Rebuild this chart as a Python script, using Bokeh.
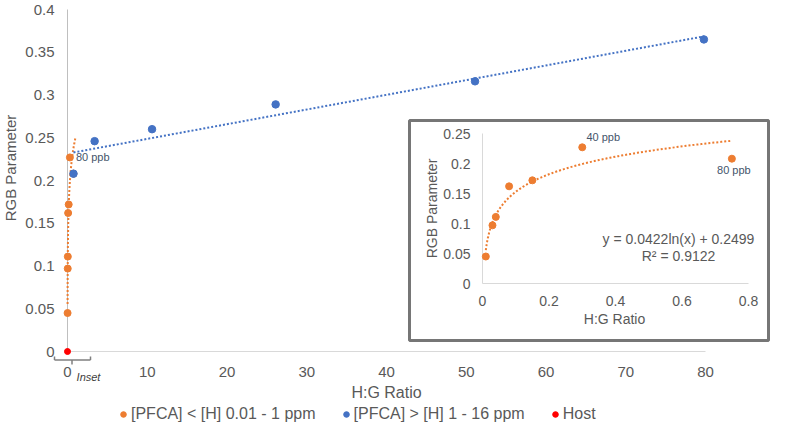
import numpy as np
from bokeh.plotting import figure
from bokeh.models import Range1d, Legend, LegendItem
from bokeh.core.properties import value
from bokeh.embed import file_html
from bokeh.resources import INLINE

# ---------------- data ----------------
low_x = [0.01, 0.03, 0.04, 0.08, 0.15, 0.30, 0.75]          # [PFCA] < [H]
low_y = [0.045, 0.097, 0.111, 0.162, 0.172, 0.227, 0.208]
high_x = [0.75, 3.4, 10.6, 26.1, 51.1, 79.8]                 # [PFCA] > [H]
high_y = [0.208, 0.246, 0.260, 0.289, 0.316, 0.365]
host_x = [0.0]
host_y = [0.0]

main_x_ticks = [0, 10, 20, 30, 40, 50, 60, 70, 80]
main_y_ticks = [0, 0.05, 0.1, 0.15, 0.2, 0.25, 0.3, 0.35, 0.4]
inset_x_ticks = [0, 0.2, 0.4, 0.6, 0.8]
inset_y_ticks = [0, 0.05, 0.1, 0.15, 0.2, 0.25]

series_names = ["[PFCA] < [H] 0.01 - 1 ppm", "[PFCA] > [H] 1 - 16 ppm", "Host"]
x_title = "H:G Ratio"
y_title = "RGB Parameter"
main_point_label = (5, "80 ppb")
inset_point_labels = [(5, "40 ppb"), (6, "80 ppb")]
equation_text = "y = 0.0422ln(x) + 0.2499"
r2_text = "R\u00b2 = 0.9122"
forecast_to = 1.0   # log trendline extension in main chart

# ---------------- style / layout ----------------
FONT = "Liberation Sans"
GREY = "#595959"
ORANGE = "#ED7D31"
BLUE = "#4472C4"
RED = "#FF0000"
LABEL_C = "#44546A"

W, H = 770, 423


def lin(p0, v0, p1, v1):
    return lambda px: float(v0 + (px - p0) * (v1 - v0) / (p1 - p0))


# pixel anchors of the axis extents (canvas px)
mx = lin(67, main_x_ticks[0], 705, main_x_ticks[-1])
my = lin(351, main_y_ticks[0], 9, main_y_ticks[-1])
ix = lin(482, inset_x_ticks[0], 748, inset_x_ticks[-1])
iy = lin(283, inset_y_ticks[0], 133, inset_y_ticks[-1])

p = figure(width=W, height=H,
           x_range=Range1d(mx(0), mx(W)), y_range=Range1d(my(H), my(0)),
           output_backend="svg", toolbar_location=None,
           x_axis_location=None, y_axis_location=None,
           min_border=0)
p.extra_x_ranges = {"ix": Range1d(ix(0), ix(W))}
p.extra_y_ranges = {"iy": Range1d(iy(H), iy(0))}
p.outline_line_color = None
p.xgrid.visible = False
p.ygrid.visible = False

TXT = dict(text_font=value(FONT), text_color=GREY)

# ---- main axes ----
x0, x1 = main_x_ticks[0], main_x_ticks[-1]
y0, y1 = main_y_ticks[0], main_y_ticks[-1]
p.segment(x0=[x0], y0=[y0], x1=[x1], y1=[y0], line_color="#d9d9d9", line_width=1)
p.segment(x0=[x0], y0=[y0], x1=[x0], y1=[y1], line_color="#bfbfbf", line_width=1)
p.text(x=[mx(54)] * len(main_y_ticks), y=main_y_ticks,
       text=[f"{v:g}" for v in main_y_ticks], text_align="right", text_baseline="middle",
       text_font_size="15px", **TXT)
p.text(x=main_x_ticks, y=[my(371)] * len(main_x_ticks),
       text=[f"{v:g}" for v in main_x_ticks], text_align="center", text_baseline="middle",
       text_font_size="15px", **TXT)
p.text(x=[(x0 + x1) / 2], y=[my(392)], text=[x_title], text_align="center",
       text_baseline="middle", text_font_size="16px", **TXT)
p.text(x=[mx(10)], y=[my(167.5)], text=[y_title], angle=float(np.pi / 2),
       text_align="center", text_baseline="middle", text_font_size="15px", **TXT)

# ---- main chart series ----
lx = np.array(low_x)
ly = np.array(low_y)
a_log, b_log = np.polyfit(np.log(lx), ly, 1)
main_fit_x = np.geomspace(lx.min(), forecast_to, 200)
p.line(main_fit_x, a_log * np.log(main_fit_x) + b_log, line_color=ORANGE,
       line_width=2, line_dash="2 2")

hx = np.array(high_x)
hy = np.array(high_y)
m_lin, c_lin = np.polyfit(hx, hy, 1)
hfit_x = np.array([hx.min(), hx.max()])
p.line(hfit_x, m_lin * hfit_x + c_lin, line_color=BLUE, line_width=2, line_dash="2 2")

r_low = p.scatter(low_x, low_y, size=7, fill_color=ORANGE, line_color=ORANGE)
r_high = p.scatter(high_x, high_y, size=7.5, fill_color=BLUE, line_color=BLUE)
r_host = p.scatter(host_x, host_y, size=6, fill_color=RED, line_color=RED)

i0, txt0 = main_point_label
p.text([low_x[i0]], [low_y[i0]], text=[txt0], x_offset=6, text_align="left",
       text_baseline="middle", text_font=value(FONT), text_font_size="11px",
       text_color=LABEL_C)

# ---- "Inset" bracket below main x axis ----
ox, oy = 67, 351
br = [(-13, 5, -13, 8.5), (-13, 8.5, 23, 8.5), (23, 8.5, 23, 5), (4.5, 8.5, 4.5, 13)]
p.segment(x0=[mx(ox + s[0]) for s in br], y0=[my(oy + s[1]) for s in br],
          x1=[mx(ox + s[2]) for s in br], y1=[my(oy + s[3]) for s in br],
          line_color="#7f7f7f", line_width=1.5)
p.text(x=[mx(ox + 21)], y=[my(oy + 25)], text=["Inset"], text_align="center",
       text_baseline="middle", text_font=value(FONT), text_font_size="11px",
       text_font_style="italic", text_color="#404040")

# ---- inset ----
IR = dict(x_range_name="ix", y_range_name="iy")
p.quad(left=ix(409), right=ix(768), top=iy(120), bottom=iy(340), fill_color="white",
       line_color="#767676", line_width=3, **IR)
ix0, ix1 = inset_x_ticks[0], inset_x_ticks[-1]
iy0, iy1 = inset_y_ticks[0], inset_y_ticks[-1]
p.segment(x0=[ix0, ix0], y0=[iy0, iy0], x1=[ix1, ix0], y1=[iy0, iy1],
          line_color="#d9d9d9", line_width=1, **IR)
p.text(x=[ix(470)] * len(inset_y_ticks), y=inset_y_ticks,
       text=[f"{v:g}" for v in inset_y_ticks], text_align="right", text_baseline="middle",
       text_font_size="14px", **TXT, **IR)
p.text(x=inset_x_ticks, y=[iy(300)] * len(inset_x_ticks),
       text=[f"{v:g}" for v in inset_x_ticks], text_align="center", text_baseline="middle",
       text_font_size="14px", **TXT, **IR)
p.text(x=[ix(431.7)], y=[iy(208)], text=[y_title], angle=float(np.pi / 2),
       text_align="center", text_baseline="middle", text_font_size="14px", **TXT, **IR)
p.text(x=[ix(614)], y=[iy(318)], text=[x_title], text_align="center",
       text_baseline="middle", text_font_size="14px", **TXT, **IR)
p.text(x=[ix(678), ix(678)], y=[iy(238), iy(255.5)], text=[equation_text, r2_text],
       text_align="center", text_baseline="middle", text_font_size="14px", **TXT, **IR)

inset_fit_x = np.geomspace(lx.min(), lx.max(), 200)
p.line(inset_fit_x, a_log * np.log(inset_fit_x) + b_log, line_color=ORANGE, line_width=2,
       line_dash="2 2", **IR)
p.scatter(low_x, low_y, size=7, fill_color=ORANGE, line_color=ORANGE, **IR)
offs = [(21, -10.7), (2, 11.7)]
for (idx, t), (dx, dy) in zip(inset_point_labels, offs):
    p.text([low_x[idx]], [low_y[idx]], text=[t], x_offset=dx, y_offset=dy,
           text_align="center", text_baseline="middle", text_font=value(FONT),
           text_font_size="11px", text_color=LABEL_C, **IR)

# ---- legend ----
legend = Legend(items=[LegendItem(label=series_names[0], renderers=[r_low]),
                       LegendItem(label=series_names[1], renderers=[r_high]),
                       LegendItem(label=series_names[2], renderers=[r_host])],
                orientation="horizontal", location=(116, 0),
                border_line_color=None, background_fill_alpha=0,
                label_text_font=FONT, label_text_font_size="16px", label_text_color=GREY,
                glyph_width=14, glyph_height=14, label_standoff=1, spacing=23,
                padding=0, margin=0, label_height=14)
p.add_layout(legend)

open("out.html", "w").write(file_html(p, INLINE))
